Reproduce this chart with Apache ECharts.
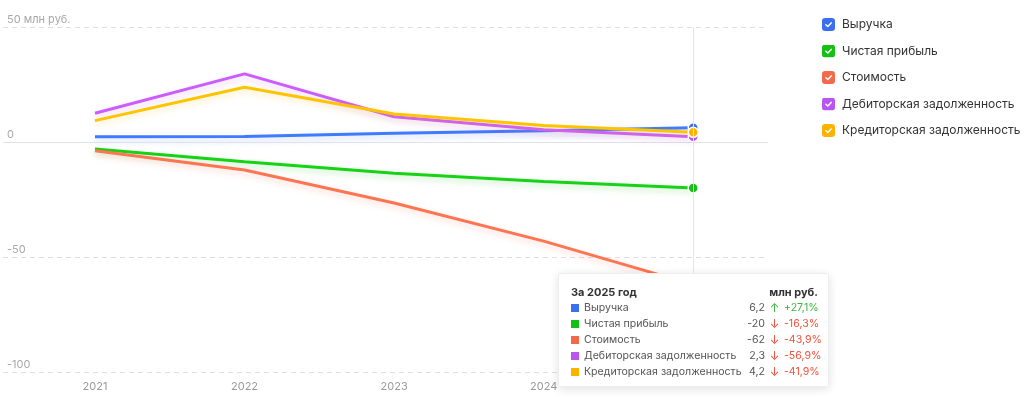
<!DOCTYPE html>
<html>
<head>
<meta charset="utf-8">
<script src="https://cdn.jsdelivr.net/npm/echarts@6/dist/echarts.min.js"></script>
<style>
    html, body { margin: 0; padding: 0; background: #ffffff; }
    #chart { width: 1024px; height: 405px; }
</style>
</head>
<body>
<div id="chart"></div>
<script>
const years = [2021, 2022, 2023, 2024, 2025];

// the 2025 label sits under the tooltip in the original
const xTickLabels = [2021, 2022, 2023, 2024];

const seriesNames = [
    "Выручка",
    "Чистая прибыль",
    "Стоимость",
    "Дебиторская задолженность",
    "Кредиторская задолженность"
];

const revenue = [2.3, 2.4, 3.8, 4.9, 6.2];
const netProfit = [-3.0, -8.6, -13.6, -17.2, -20];
const cost = [-3.8, -12.2, -26.5, -43.1, -62];
const receivables = [12.5, 29.6, 11.0, 5.3, 2.3];
const payables = [9.3, 23.8, 12.2, 7.2, 4.2];

// change vs previous year, as shown in the tooltip
const changes = [27.1, -16.3, -43.9, -56.9, -41.9];

const yTicks = [-100, -50, 0, 50];

const colors = ["#3a6ff0", "#14c014", "#f36a4a", "#b955f0", "#fbb300"];

const allValues = [revenue, netProfit, cost, receivables, payables];

function checkIcon(color) {
    const svg =
        "<svg xmlns='http://www.w3.org/2000/svg' width='26' height='26' viewBox='0 0 13 13'>" +
        "<rect width='13' height='13' rx='3.2' fill='" + color + "'/>" +
        "<path d='M3.9 6.8 L5.8 8.5 L9.2 4.9' fill='none' stroke='#ffffff' stroke-width='1.5' " +
        "stroke-linecap='round' stroke-linejoin='round'/></svg>";
    return "image://data:image/svg+xml;utf8," + encodeURIComponent(svg);
}

function formatNumber(v) {
    return String(v).replace(".", ",");
}

function tooltipHtml(index) {
    let html =
        "<div style=\"font-family:Inter,sans-serif;font-size:11px;color:#333;width:247px;line-height:16px\">" +
        "<div style=\"display:flex;justify-content:space-between;font-weight:700\">" +
        "<span>За " + years[index] + " год</span><span>млн руб.</span></div>";

    seriesNames.forEach((name, i) => {
        const change = changes[i];
        const up = change > 0;
        const tone = up ? "#3cb83c" : "#f2503c";
        const changeText = (up ? "+" : "") + formatNumber(change) + "%";

        html +=
            "<div style=\"display:flex;align-items:center;font-size:10.6px\">" +
            "<span style=\"display:inline-block;width:8px;height:8px;background:" + colors[i] +
            ";margin-right:5px\"></span>" +
            "<span style=\"flex:1;color:#555;white-space:nowrap\">" + name + "</span>" +
            "<span style=\"color:#555;padding-left:4px\">" + formatNumber(allValues[i][index]) + "</span>" +
            "<span style=\"width:19px;text-align:center;font-size:12px;color:" + tone + "\">" + (up ? "↑" : "↓") + "</span>" +
            "<span style=\"width:34px;text-align:right;color:" + tone + "\">" + changeText + "</span>" +
            "</div>";
    });

    return html + "</div>";
}

const chart = echarts.init(document.getElementById("chart"));

chart.setOption({
    animation: false,
    textStyle: {
        fontFamily: "Inter"
    },
    color: colors,
    grid: {
        left: 3,
        right: 256,
        top: 27,
        bottom: 33
    },
    legend: {
        orient: "vertical",
        left: 817,
        top: 13,
        itemWidth: 13,
        itemHeight: 13,
        itemGap: 13.5,
        selectedMode: false,
        textStyle: {
            fontSize: 12,
            color: "#333333",
            padding: [0, 0, 0, 2]
        },
        data: seriesNames.map((name, i) => ({
            name: name,
            icon: checkIcon(colors[i])
        }))
    },
    tooltip: {
        trigger: "axis",
        triggerOn: "none",
        alwaysShowContent: true,
        position: [558, 273],
        backgroundColor: "#ffffff",
        borderColor: "#eeeeee",
        borderWidth: 1,
        padding: [10, 10, 6, 12],
        extraCssText: "box-shadow:0 2px 10px rgba(0,0,0,0.12);border-radius:2px;",
        axisPointer: {
            type: "line",
            lineStyle: {
                color: "#e6e6ec",
                width: 1,
                type: "solid"
            }
        },
        formatter: params => {
            const index = params.length ? params[0].dataIndex : years.length - 1;
            return tooltipHtml(index);
        }
    },
    xAxis: {
        type: "value",
        min: 2020.385,
        max: 2025.5,
        axisPointer: {
            snap: true
        },
        axisLine: { show: false },
        axisTick: { show: false },
        splitLine: { show: false },
        axisLabel: {
            customValues: xTickLabels,
            color: "#9a9a9a",
            fontSize: 11,
            margin: 9,
            formatter: v => String(v)
        }
    },
    yAxis: {
        type: "value",
        min: yTicks[0],
        max: yTicks[yTicks.length - 1],
        interval: 50,
        axisLine: { show: false },
        axisTick: { show: false },
        axisLabel: {
            inside: true,
            margin: 4,
            verticalAlign: "bottom",
            padding: [0, 0, 2, 0],
            color: "#a8a8a8",
            fontSize: 11,
            formatter: v => (v === 50 ? "50 млн руб." : String(v))
        },
        splitLine: {
            lineStyle: {
                color: "#dedede",
                type: [5, 4]
            }
        }
    },
    series: seriesNames.map((name, i) => ({
        name: name,
        type: "line",
        data: years.map((year, j) => [year, allValues[i][j]]),
        showSymbol: false,
        symbol: "circle",
        symbolSize: 10,
        itemStyle: {
            color: colors[i],
            borderColor: "#ffffff",
            borderWidth: 1.5
        },
        lineStyle: {
            width: 3,
            color: colors[i],
            shadowColor: colors[i] + "40",
            shadowBlur: 6,
            shadowOffsetY: 3
        },
        emphasis: {
            scale: false,
            lineStyle: { width: 3 }
        },
        markLine: i === 0 ? {
            silent: true,
            symbol: "none",
            label: { show: false },
            lineStyle: {
                color: "#dfe2ea",
                width: 1,
                type: "solid",
                shadowBlur: 0
            },
            data: [{ yAxis: 0 }]
        } : undefined,
        z: 2 + i
    }))
});

chart.dispatchAction({
    type: "showTip",
    seriesIndex: 0,
    dataIndex: years.length - 1
});
</script>
</body>
</html>
